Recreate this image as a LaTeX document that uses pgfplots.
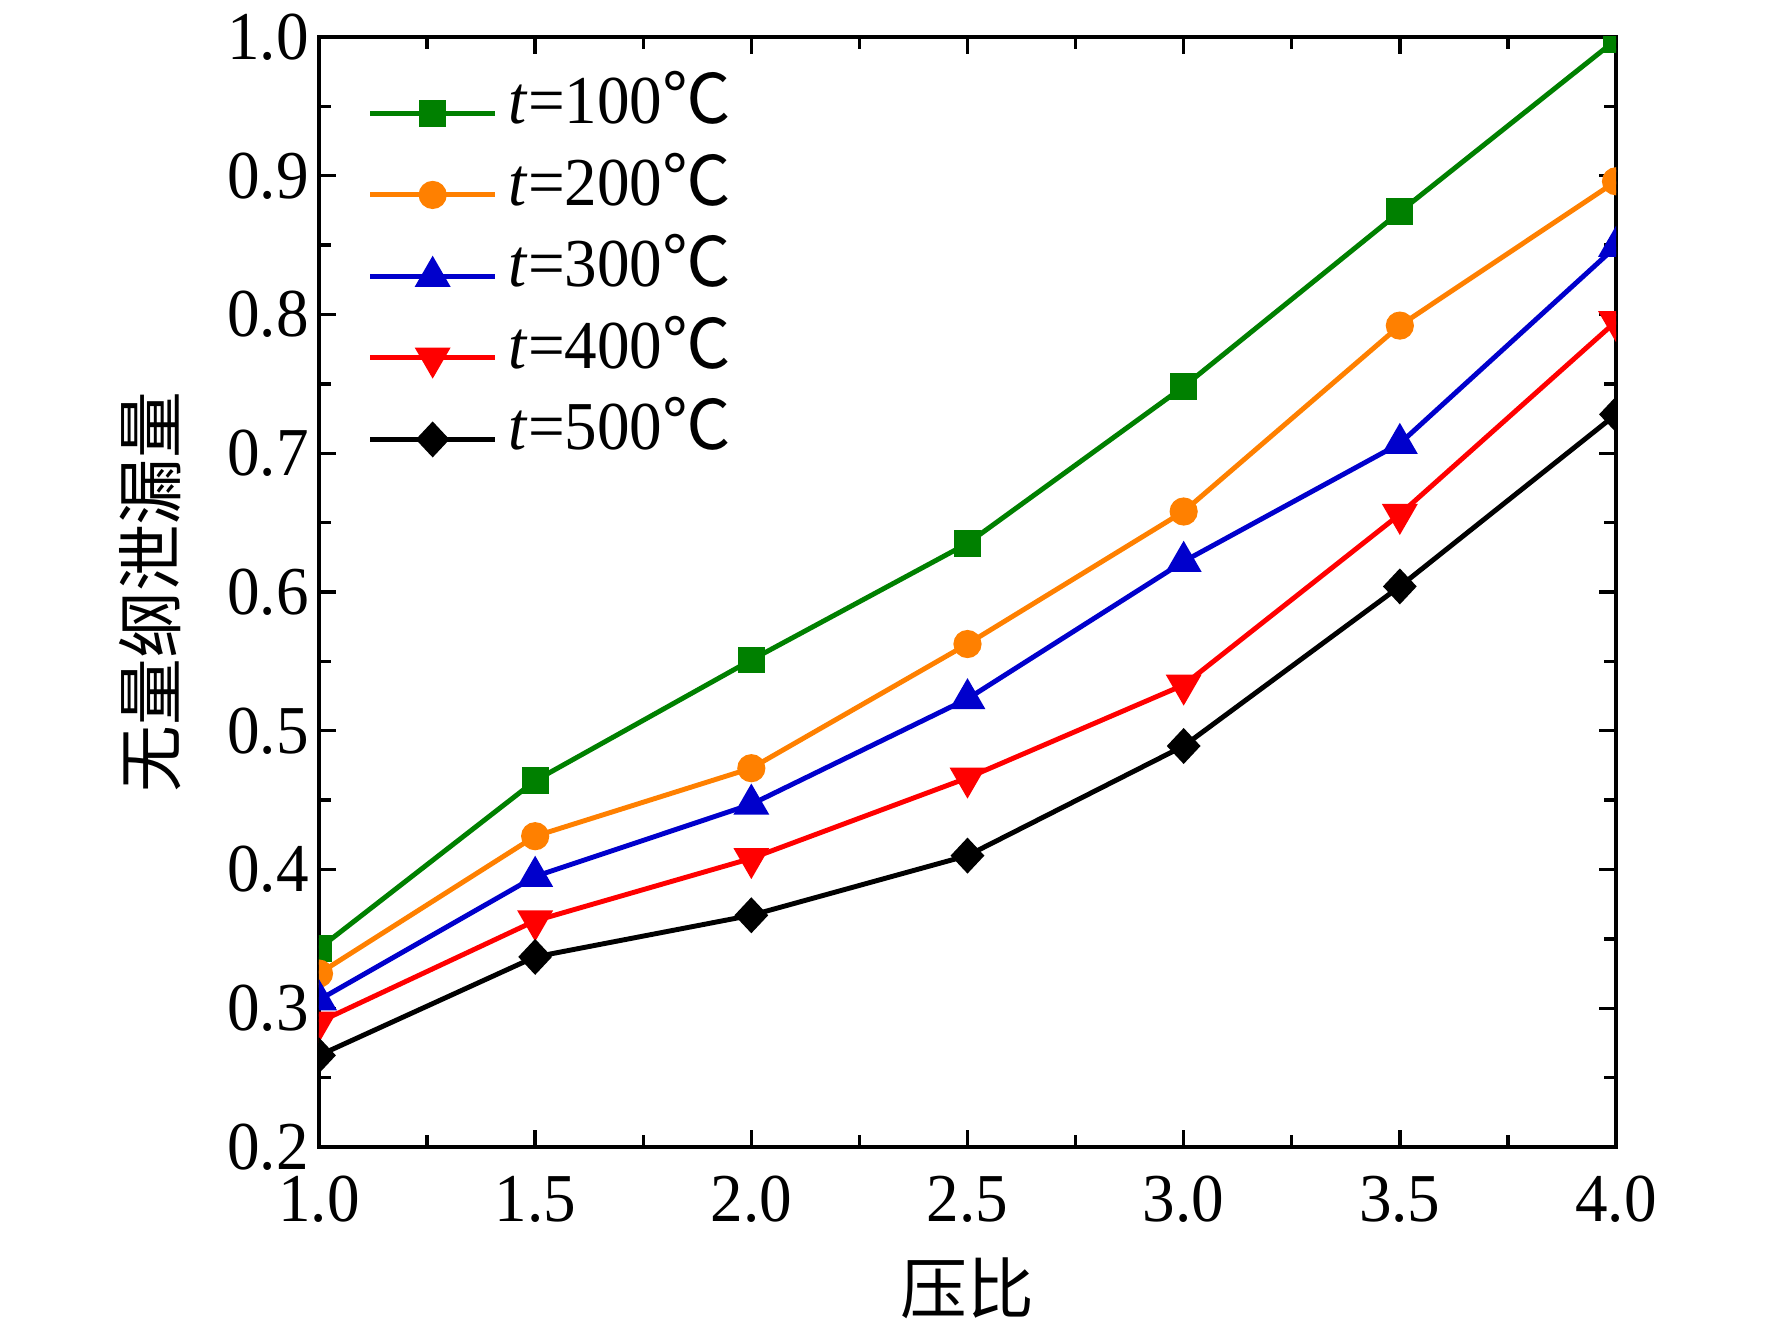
\documentclass[border=0pt]{standalone}
\usepackage{fontspec}
\setmainfont[FakeStretch=0.95]{Liberation Serif}
\newfontfamily\cjk{Noto Sans CJK SC}
\usepackage{pgfplots}
\pgfplotsset{compat=1.18}
\definecolor{cgreen}{RGB}{0,128,0}
\definecolor{corange}{RGB}{255,128,0}
\definecolor{cblue}{RGB}{0,0,204}
\definecolor{cred}{RGB}{255,0,0}
\begin{document}
\begin{tikzpicture}
\begin{axis}[
  scale only axis, width=12.97cm, height=11.10cm,
  xmin=1, xmax=4, ymin=0.2, ymax=1.0,
  xtick={1,1.5,2,2.5,3,3.5,4},
  ytick={0.2,0.3,0.4,0.5,0.6,0.7,0.8,0.9,1.0},
  minor x tick num=1, minor y tick num=1,
  tick align=inside,
  major tick length=0.17cm, minor tick length=0.12cm,
  every tick/.style={black, line width=0.95pt},
  axis line style={line width=1.3pt},
  font=\fontsize{19.5pt}{23pt}\selectfont,
  /pgf/number format/assume math mode=true,
  /pgf/number format/.cd, fixed, fixed zerofill, precision=1, /pgfplots/.cd,
  xticklabel style={yshift=-0.17cm},
  yticklabel style={xshift=0.02cm},
  xlabel={压比}, ylabel={无量纲泄漏量},
  xlabel style={font=\cjk\fontsize{19pt}{22pt}\selectfont, at={(axis description cs:0.5,-0.127)}, anchor=center},
  ylabel style={font=\cjk\fontsize{19pt}{22pt}\selectfont, at={(axis description cs:-0.1303,0.5)}, anchor=center},
  clip marker paths=true,
  legend cell align=left,
  legend style={at={(axis description cs:0,1)}, anchor=north west, xshift=0.48cm, yshift=-0.35cm,
    draw=none, fill=none, inner sep=0pt, row sep=0pt,
    nodes={inner sep=0pt, text height=0.51cm, text depth=0.305cm},
    /tikz/every odd column/.append style={column sep=0.11cm}},
  legend image code/.code={\draw[mark repeat=2, mark phase=2] plot coordinates {(0cm,0cm) (0.625cm,0cm) (1.25cm,0cm)};},
  every axis plot/.append style={line width=1.4pt},
]
\addplot[cgreen, mark=square*, mark size=3.1pt] coordinates {(1,0.343)(1.5,0.464)(2,0.551)(2.5,0.635)(3,0.748)(3.5,0.874)(4,0.998)};
\addlegendentry{\textit{t}=100{\cjk ℃}}
\addplot[corange, mark=*, mark size=3.3pt] coordinates {(1,0.325)(1.5,0.424)(2,0.473)(2.5,0.5625)(3,0.658)(3.5,0.792)(4,0.896)};
\addlegendentry{\textit{t}=200{\cjk ℃}}
\addplot[cblue, mark=triangle*, mark size=4.5pt] coordinates {(1,0.306)(1.5,0.395)(2,0.447)(2.5,0.523)(3,0.622)(3.5,0.707)(4,0.849)};
\addlegendentry{\textit{t}=300{\cjk ℃}}
\addplot[cred, mark=triangle*, mark size=4.5pt, mark options={rotate=180}] coordinates {(1,0.290)(1.5,0.363)(2,0.408)(2.5,0.466)(3,0.533)(3.5,0.656)(4,0.795)};
\addlegendentry{\textit{t}=400{\cjk ℃}}
\addplot[black, mark=diamond*, mark size=4.1pt, mark options={xscale=1.25}] coordinates {(1,0.266)(1.5,0.337)(2,0.367)(2.5,0.410)(3,0.489)(3.5,0.604)(4,0.728)};
\addlegendentry{\textit{t}=500{\cjk ℃}}
\end{axis}
\path (current axis.south west) ++(-3.19cm,-1.82cm) rectangle ++(17.72cm,13.29cm);
\end{tikzpicture}
\end{document}
